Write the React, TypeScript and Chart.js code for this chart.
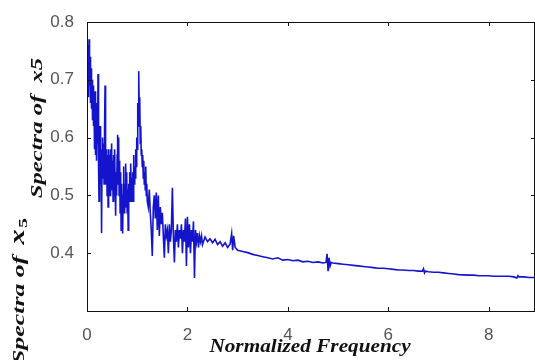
import React, { useEffect, useRef } from "react";
import { Chart, registerables } from "chart.js";

Chart.register(...registerables);

const freqs: number[] = [
  0.0, 0.01, 0.02, 0.03, 0.04, 0.05, 0.06, 0.07, 0.08, 0.09,
  0.1, 0.11, 0.12, 0.13, 0.14, 0.15, 0.16, 0.17, 0.18, 0.19,
  0.2, 0.21, 0.22, 0.23, 0.24, 0.25, 0.26, 0.27, 0.28, 0.29,
  0.3, 0.31, 0.32, 0.33, 0.34, 0.35, 0.36, 0.37, 0.38, 0.39,
  0.4, 0.41, 0.42, 0.43, 0.44, 0.45, 0.46, 0.47, 0.48, 0.49,
  0.5, 0.51, 0.52, 0.53, 0.54, 0.55, 0.56, 0.57, 0.58, 0.59,
  0.6, 0.61, 0.62, 0.63, 0.64, 0.65, 0.66, 0.67, 0.68, 0.69,
  0.7, 0.71, 0.72, 0.73, 0.74, 0.75, 0.76, 0.77, 0.78, 0.79,
  0.8, 0.81, 0.82, 0.83, 0.84, 0.85, 0.86, 0.87, 0.88, 0.89,
  0.9, 0.91, 0.92, 0.93, 0.94, 0.95, 0.96, 0.97, 0.98, 0.99,
  1.0, 1.01, 1.02, 1.03, 1.04, 1.05, 1.06, 1.07, 1.08, 1.09,
  1.1, 1.11, 1.12, 1.13, 1.14, 1.15, 1.16, 1.17, 1.18, 1.19,
  1.2, 1.22, 1.24, 1.26, 1.28, 1.3, 1.32, 1.34, 1.36, 1.38,
  1.4, 1.42, 1.44, 1.46, 1.48, 1.5, 1.52, 1.54, 1.56, 1.58,
  1.6, 1.62, 1.64, 1.66, 1.68, 1.7, 1.72, 1.74, 1.76, 1.78,
  1.8, 1.82, 1.84, 1.86, 1.88, 1.9, 1.92, 1.94, 1.96, 1.98,
  2.0, 2.02, 2.04, 2.06, 2.08, 2.1, 2.12, 2.14, 2.16, 2.18,
  2.2, 2.22, 2.24, 2.26, 2.28, 2.3,
  2.35, 2.4, 2.45, 2.5, 2.55, 2.6, 2.65, 2.7, 2.75, 2.8,
  2.85, 2.88, 2.9, 2.92, 2.95, 3.0,
  3.1, 3.2, 3.3, 3.4, 3.5, 3.6, 3.7, 3.8, 3.9, 4.0,
  4.1, 4.2, 4.3, 4.4, 4.5, 4.6, 4.7, 4.76, 4.78, 4.8,
  4.82, 4.84, 4.86, 4.9, 5.0, 5.1, 5.2, 5.3, 5.4, 5.5,
  5.6, 5.7, 5.8, 5.9, 6.0, 6.1, 6.2, 6.3, 6.4, 6.5,
  6.6, 6.68, 6.7, 6.72, 6.74, 6.8, 6.9, 7.0, 7.1, 7.2,
  7.3, 7.4, 7.5, 7.6, 7.7, 7.8, 7.9, 8.0, 8.1, 8.2,
  8.3, 8.4, 8.5, 8.56, 8.58, 8.6, 8.7, 8.8, 8.9,
];

const spectraX5: number[] = [
  0.75, 0.68, 0.76, 0.67, 0.77, 0.69, 0.74, 0.66, 0.72, 0.65,
  0.70, 0.63, 0.69, 0.62, 0.66, 0.58, 0.68, 0.57, 0.64, 0.56,
  0.66, 0.59, 0.71, 0.55, 0.49, 0.60, 0.62, 0.52, 0.58, 0.435,
  0.57, 0.60, 0.53, 0.59, 0.52, 0.62, 0.69, 0.56, 0.52, 0.58,
  0.50, 0.57, 0.48, 0.58, 0.53, 0.57, 0.50, 0.58, 0.53, 0.59,
  0.51, 0.56, 0.49, 0.57, 0.50, 0.58, 0.52, 0.465, 0.54, 0.50,
  0.57, 0.605, 0.52, 0.60, 0.50, 0.56, 0.47, 0.54, 0.44, 0.52,
  0.48, 0.434, 0.50, 0.55, 0.47, 0.52, 0.48, 0.555, 0.50, 0.54,
  0.47, 0.51, 0.44, 0.52, 0.49, 0.54, 0.50, 0.555, 0.49, 0.53,
  0.50, 0.54, 0.49, 0.57, 0.52, 0.55, 0.53, 0.58, 0.55, 0.60,
  0.58, 0.66, 0.62, 0.715, 0.64, 0.67, 0.59, 0.62, 0.57, 0.58,
  0.55, 0.57, 0.53, 0.56, 0.52, 0.54, 0.51, 0.55, 0.50, 0.52,
  0.49, 0.48, 0.51, 0.47, 0.44, 0.395, 0.48, 0.50, 0.46, 0.505,
  0.44, 0.50, 0.43, 0.48, 0.45, 0.47, 0.43, 0.392, 0.45, 0.43,
  0.44, 0.40, 0.45, 0.42, 0.44, 0.513, 0.43, 0.384, 0.44, 0.42,
  0.45, 0.41, 0.44, 0.425, 0.45, 0.40, 0.44, 0.42, 0.46, 0.378,
  0.463, 0.41, 0.45, 0.40, 0.44, 0.42, 0.455, 0.357, 0.44, 0.42,
  0.435, 0.41, 0.43, 0.42, 0.43, 0.415,
  0.428, 0.42, 0.425, 0.418, 0.424, 0.415, 0.42, 0.412, 0.418, 0.41,
  0.416, 0.434, 0.405, 0.43, 0.41, 0.405,
  0.403, 0.401, 0.398, 0.396, 0.394, 0.392, 0.39, 0.392, 0.388, 0.389,
  0.387, 0.388, 0.385, 0.386, 0.384, 0.385, 0.383, 0.384, 0.399, 0.369,
  0.392, 0.378, 0.384, 0.383, 0.382, 0.381, 0.38, 0.379, 0.378, 0.377,
  0.376, 0.375, 0.374, 0.374, 0.373, 0.372, 0.371, 0.371, 0.37, 0.37,
  0.369, 0.369, 0.373, 0.366, 0.369, 0.368, 0.367, 0.367, 0.366, 0.365,
  0.364, 0.363, 0.3625, 0.362, 0.362, 0.361, 0.361, 0.361, 0.36, 0.36,
  0.36, 0.36, 0.359, 0.357, 0.361, 0.359, 0.359, 0.358, 0.358,
];

const xTickValues: number[] = [0, 2, 4, 6, 8];
const yTickValues: number[] = [0.3, 0.4, 0.5, 0.6, 0.7, 0.8];
const yTickLabels: string[] = ["", "0.4", "0.5", "0.6", "0.7", "0.8"];
const xTitle = "Normalized Frequency";
const yTitle1 = "Spectra of  x5";
const yTitle2Main = "Spectra of ";
const yTitle2Var = "x";
const yTitle2Sub = "5";

const framePlugin = {
  id: "matlabFrame",
  afterDraw(chart: any) {
    const { ctx, chartArea } = chart;
    const { left, right, top, bottom } = chartArea;
    const xs = chart.scales.x;
    const ys = chart.scales.y;
    ctx.save();
    ctx.strokeStyle = "#111";
    ctx.lineWidth = 1;
    ctx.beginPath();
    ctx.moveTo(left + 0.5, top + 0.5);
    ctx.lineTo(right - 0.5, top + 0.5);
    ctx.lineTo(right - 0.5, bottom + 0.5);
    ctx.lineTo(left + 0.5, bottom + 0.5);
    ctx.closePath();
    ctx.stroke();
    const tl = 4;
    ctx.beginPath();
    xTickValues.forEach((v) => {
      const px = Math.round(xs.getPixelForValue(v)) + 0.5;
      ctx.moveTo(px, bottom);
      ctx.lineTo(px, bottom - tl);
      ctx.moveTo(px, top);
      ctx.lineTo(px, top + tl);
    });
    yTickValues.forEach((v) => {
      const py = Math.round(ys.getPixelForValue(v)) + 0.5;
      ctx.moveTo(left, py);
      ctx.lineTo(left + tl, py);
      ctx.moveTo(right, py);
      ctx.lineTo(right - tl, py);
    });
    ctx.stroke();

    ctx.fillStyle = "#111";
    ctx.textAlign = "center";
    ctx.textBaseline = "middle";

    ctx.save();
    ctx.translate(310, 347);
    ctx.scale(1.18, 1);
    ctx.font = "italic bold 18px 'Liberation Serif'";
    ctx.fillText(xTitle, 0, 0);
    ctx.restore();

    ctx.save();
    ctx.translate(38, 128);
    ctx.rotate(-Math.PI / 2);
    ctx.scale(1.45, 1);
    ctx.font = "italic bold 17px 'Liberation Serif'";
    ctx.fillText(yTitle1, 0, 0);
    ctx.restore();

    ctx.save();
    ctx.translate(20, 364);
    ctx.rotate(-Math.PI / 2);
    ctx.scale(1.52, 1);
    ctx.textAlign = "left";
    ctx.font = "italic bold 17px 'Liberation Serif'";
    ctx.fillText(yTitle2Main, 0, 0);
    let w = ctx.measureText(yTitle2Main).width + 3;
    ctx.font = "italic bold 20px 'Liberation Serif'";
    ctx.fillText(yTitle2Var, w, -1);
    w += ctx.measureText(yTitle2Var).width + 1;
    ctx.font = "bold 13px 'Liberation Serif'";
    ctx.fillText(yTitle2Sub, w, 4);
    ctx.restore();
    ctx.restore();
  },
};

export default function App() {
  const ref = useRef<HTMLCanvasElement | null>(null);
  useEffect(() => {
    if (!ref.current) return;
    const data = freqs.map((f, i) => ({ x: f, y: spectraX5[i] }));
    const chart = new Chart(ref.current, {
      type: "line",
      data: {
        datasets: [
          {
            data,
            borderColor: "#1414cc",
            borderWidth: 1.6,
            pointRadius: 0,
            tension: 0,
            fill: false,
          },
        ],
      },
      options: {
        animation: false,
        responsive: false,
        events: [],
        layout: { padding: { top: 22, left: 0, right: 0, bottom: 0 } },
        plugins: { legend: { display: false }, tooltip: { enabled: false } },
        scales: {
          x: {
            type: "linear",
            min: 0,
            max: 8.92,
            grid: { display: false },
            border: { display: false },
            afterBuildTicks: (s: any) => {
              s.ticks = xTickValues.map((v) => ({ value: v }));
            },
            afterFit: (s: any) => {
              s.height = 49;
            },
            ticks: {
              padding: 6,
              color: "#555",
              font: { family: "'Liberation Sans'", size: 17 },
              maxRotation: 0,
              autoSkip: false,
              callback: (v: any) => String(v),
            },
          },
          y: {
            type: "linear",
            min: 0.3,
            max: 0.8,
            grid: { display: false },
            border: { display: false },
            afterBuildTicks: (s: any) => {
              s.ticks = yTickValues.map((v) => ({ value: v }));
            },
            afterFit: (s: any) => {
              s.width = 87;
            },
            ticks: {
              padding: 5,
              color: "#555",
              font: { family: "'Liberation Sans'", size: 17 },
              autoSkip: false,
              callback: (v: any) => {
                const i = yTickValues.indexOf(Number(v));
                return i >= 0 ? yTickLabels[i] : "";
              },
            },
          },
        },
      },
      plugins: [framePlugin],
    });
    return () => chart.destroy();
  }, []);
  return (
    <canvas
      ref={ref}
      width={535}
      height={360}
      style={{ position: "absolute", left: 0, top: 0, width: 535, height: 360, background: "#fff" }}
    />
  );
}
